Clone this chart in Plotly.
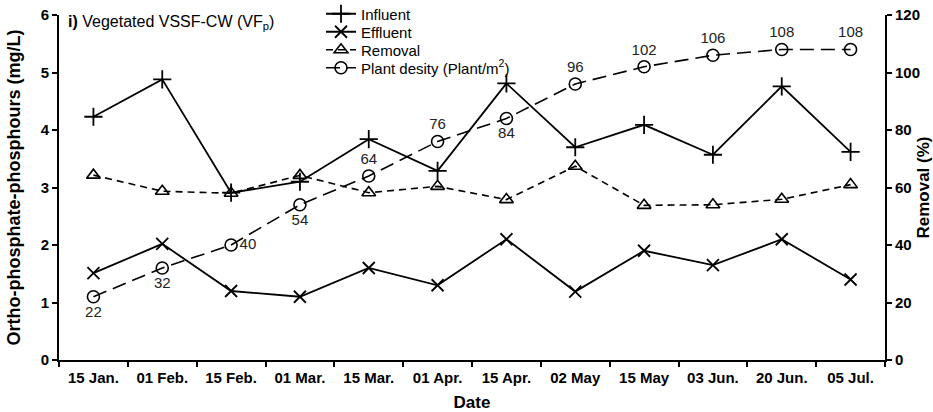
import plotly.graph_objects as go

dates = ["15 Jan.", "01 Feb.", "15 Feb.", "01 Mar.", "15 Mar.", "01 Apr.",
         "15 Apr.", "02 May", "15 May", "03 Jun.", "20 Jun.", "05 Jul."]
influent = [4.23, 4.88, 2.91, 3.10, 3.84, 3.29, 4.81, 3.70, 4.09, 3.57, 4.76, 3.62]
effluent = [1.51, 2.02, 1.20, 1.10, 1.60, 1.30, 2.10, 1.19, 1.90, 1.65, 2.10, 1.40]
removal = [64.3, 58.7, 58.0, 64.2, 58.2, 60.4, 55.8, 67.4, 53.8, 54.0, 55.9, 61.0]
plant_density = [22, 32, 40, 54, 64, 76, 84, 96, 102, 106, 108, 108]
label_pos = ["bottom center", "bottom center", "middle right", "bottom center",
             "top center", "top center", "bottom center", "top center",
             "top center", "top center", "top center", "top center"]

FONT = "Liberation Sans, Arial, sans-serif"
fig = go.Figure()
fig.add_trace(go.Scatter(x=dates, y=influent, name="Influent", mode="lines+markers", legend="legend",
                         line=dict(color="black", width=1.8),
                         marker=dict(symbol="cross-thin", size=13, line=dict(color="black", width=1.8))))
fig.add_trace(go.Scatter(x=dates, y=effluent, name="Effluent", mode="lines+markers", legend="legend2",
                         line=dict(color="black", width=1.8),
                         marker=dict(symbol="x-thin", size=12, line=dict(color="black", width=1.8))))
fig.add_trace(go.Scatter(x=dates, y=removal, name="Removal", mode="lines+markers", yaxis="y2",
                         legend="legend3",
                         line=dict(color="black", width=1.6, dash="7px,5px"),
                         marker=dict(symbol="triangle-up-open", size=12, color="black", line=dict(width=1.6))))
fig.add_trace(go.Scatter(x=dates, y=plant_density, name="Plant desity (Plant/m<sup>2</sup>)",
                         mode="lines+markers+text", yaxis="y2", legend="legend4",
                         text=[str(v) for v in plant_density], textposition=label_pos,
                         textfont=dict(family=FONT, size=15, color="#222"),
                         line=dict(color="black", width=1.6, dash="14px,7px"),
                         marker=dict(symbol="circle-open", size=12, color="black", line=dict(width=1.6))))

fig.add_annotation(text="<b>i)</b> Vegetated VSSF-CW (VF<sub>p</sub>)", xref="paper", yref="paper",
                   x=0.0085, y=0.977, xanchor="left", yanchor="middle", showarrow=False,
                   font=dict(family=FONT, size=16, color="black"))

def leg(ypx):
    return dict(x=(321 - 59) / 826, y=(360 - ypx) / 345, xanchor="left", yanchor="middle",
                bgcolor="rgba(0,0,0,0)", font=dict(family=FONT, size=15, color="black"),
                itemwidth=30, borderwidth=0)

TICKFONT = dict(family=FONT, size=15, color="black", weight="bold")
fig.update_layout(
    width=933, height=412, margin=dict(l=59, r=48, t=15, b=52, autoexpand=False),
    paper_bgcolor="white", plot_bgcolor="white",
    font=dict(family=FONT, color="black"),
    showlegend=True,
    legend=leg(14), legend2=leg(32), legend3=leg(50), legend4=leg(68),
    xaxis=dict(type="category", categoryorder="array", categoryarray=dates,
               tickson="boundaries", ticks="outside", ticklen=5, tickwidth=2, tickcolor="black",
               showline=True, linecolor="black", linewidth=2, showgrid=False, zeroline=False,
               tickfont=TICKFONT, ticklabelstandoff=3,
               title=dict(text="<b>Date</b>", font=dict(family=FONT, size=17)),
               range=[-0.5, 11.5]),
    yaxis=dict(range=[0, 6], dtick=1, ticks="outside", ticklen=5, tickwidth=2, tickcolor="black",
               showline=True, linecolor="black", linewidth=2, showgrid=False, zeroline=False,
               tickfont=TICKFONT,
               title=dict(text="<b>Ortho-phosphate-phosphours (mg/L)</b>", font=dict(family=FONT, size=18))),
    yaxis2=dict(range=[0, 120], dtick=20, overlaying="y", side="right", ticks="outside", ticklen=5,
                tickwidth=2, tickcolor="black",
                showline=True, linecolor="black", linewidth=2, showgrid=False, zeroline=False,
                tickfont=TICKFONT,
                title=dict(text="<b>Removal (%)</b>", font=dict(family=FONT, size=17))),
)
fig.write_html("out.html")
